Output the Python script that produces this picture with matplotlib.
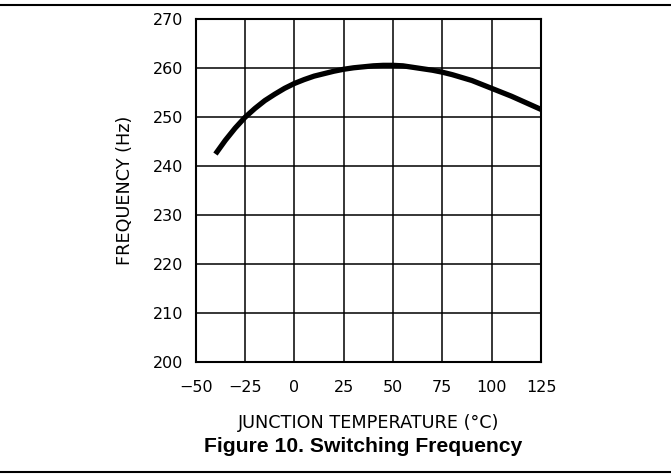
import matplotlib
matplotlib.use('Agg')
import matplotlib.pyplot as plt
from matplotlib.lines import Line2D

# junction temperature (degC) vs switching frequency (Hz)
temp_c = [-40, -35, -30, -25, -20, -15, -10, -5, 0, 5, 10, 15, 20, 25, 30, 35,
          40, 45, 50, 55, 60, 65, 70, 75, 80, 85, 90, 95, 100, 105, 110, 115,
          120, 125]
freq_hz = [242.5, 245.3, 247.8, 250.0, 251.8, 253.4, 254.7, 255.9, 256.9,
           257.7, 258.4, 258.9, 259.4, 259.8, 260.1, 260.3, 260.5, 260.6,
           260.6, 260.5, 260.2, 259.9, 259.6, 259.2, 258.7, 258.1, 257.5,
           256.7, 255.9, 255.1, 254.3, 253.4, 252.5, 251.6]

x_ticks = [-50, -25, 0, 25, 50, 75, 100, 125]
y_ticks = [200, 210, 220, 230, 240, 250, 260, 270]

fig = plt.figure(figsize=(6.71, 4.76), dpi=100)
ax = fig.add_axes([0.2917, 0.2389, 0.5146, 0.7206])

ax.plot(temp_c, freq_hz, color='black', lw=3.8, solid_capstyle='butt')

ax.set_xlim(-50, 125)
ax.set_ylim(200, 270)
ax.set_xticks(x_ticks)
ax.set_yticks(y_ticks)
ax.grid(True, color='black', lw=1.1)
ax.set_axisbelow(True)
for sp in ax.spines.values():
    sp.set_linewidth(1.5)

ax.tick_params(axis='both', length=0, labelsize=11.5)
ax.tick_params(axis='x', pad=13)
ax.tick_params(axis='y', pad=9)

ax.set_xlabel('JUNCTION TEMPERATURE (\u00b0C)', fontsize=12.7)
ax.xaxis.set_label_coords(0.5, -0.152)
ax.set_ylabel('FREQUENCY (Hz)', fontsize=12.7)
ax.yaxis.set_label_coords(-0.18, 0.5)

fig.text(0.541, 0.061, 'Figure 10. Switching Frequency', ha='center',
         va='center', fontsize=15.2, fontweight='bold', family='Liberation Sans')

# horizontal rules above and below the figure
fig.add_artist(Line2D([0, 1], [0.9895, 0.9895], color='black', lw=1.5))
fig.add_artist(Line2D([0, 1], [0.009, 0.009], color='black', lw=1.5))

fig.savefig('out.png', dpi=100)
